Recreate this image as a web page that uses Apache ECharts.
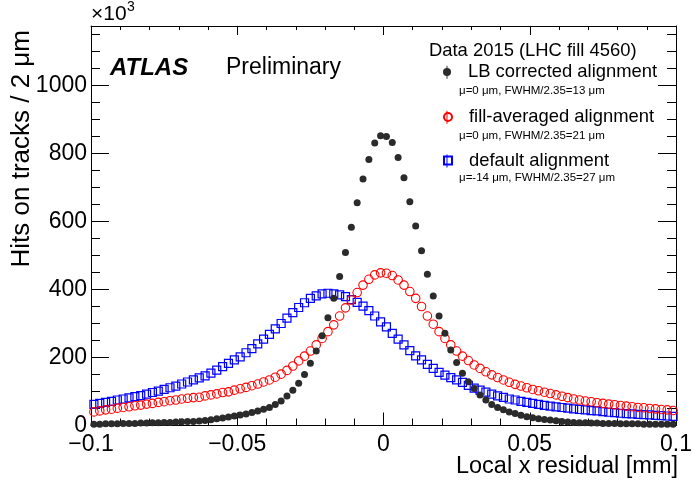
<!DOCTYPE html>
<html>
<head>
<meta charset="utf-8">
<title>Local x residual</title>
<script src="https://cdn.jsdelivr.net/npm/echarts@6/dist/echarts.min.js"></script>
<style>
  html, body { margin: 0; padding: 0; background: #fff; }
  #chart { width: 692px; height: 484px; }
</style>
</head>
<body>
<div id="chart"></div>
<script>
// binning of the histograms: 100 bins of 2 um over [-0.1, 0.1] mm
const X_MIN = -0.1
const BIN_WIDTH = 0.002

// hits per bin (x10^3), one value per bin, left to right
const lbCorrected = [
  4, 4, 5, 5, 5, 6, 6, 6, 7, 7, 8, 8, 9, 9, 10, 11, 12, 12,
  13, 15, 17, 20, 22, 25, 28, 31, 34, 38, 43, 48, 53, 62, 72, 87, 104, 124, 150,
  183, 219, 264, 317, 374, 438, 509, 583, 655, 725, 782, 831, 852,
  850, 832, 788, 729, 658, 587, 514, 445, 381, 322, 271, 222, 185, 154, 129,
  109, 90, 75, 62, 53, 46, 40, 35, 30, 26, 23, 20, 18, 16, 14, 12, 10, 9,
  8, 8, 7, 7, 6, 6, 6, 5, 5, 5, 5, 4, 4, 4, 4, 4, 4
]
const fillAveraged = [
  40, 43, 46, 48, 51, 53, 55, 58, 60, 63, 65, 68, 70, 73, 75, 78, 80, 82,
  83, 87, 90, 93, 97, 99, 104, 108, 112, 117, 122, 128, 134, 142, 151, 162, 175, 190, 204,
  219, 237, 256, 276, 296, 322, 346, 369, 391, 413, 430, 443, 449,
  448, 441, 428, 413, 394, 374, 350, 322, 298, 276, 256, 237, 219, 204, 191,
  178, 168, 158, 149, 141, 134, 127, 121, 116, 111, 106, 102, 98, 94, 90, 86, 82, 78,
  75, 72, 70, 67, 65, 63, 61, 59, 57, 55, 53, 52, 50, 49, 47, 46, 44
]
const defaultAlign = [
  62, 65, 68, 71, 75, 78, 81, 85, 88, 92, 97, 101, 106, 111, 116, 122, 128, 134,
  140, 146, 154, 163, 173, 183, 193, 202, 214, 226, 240, 254, 268, 284,
  300, 316, 332, 347, 361, 374, 381, 387, 389, 387, 384, 379, 370, 362, 351, 338, 322, 305, 290, 271, 254, 237, 220, 205, 193,
  180, 168, 156, 148, 141, 134, 127, 118, 110,
  104, 98, 92, 87, 83, 78, 75, 71, 68, 65, 62, 59, 57, 55, 53, 51, 49, 47, 46, 44, 43, 41, 39, 38, 36, 35, 34, 33, 32, 31, 30, 29, 28, 27
]

const seriesNames = ['LB corrected alignment', 'fill-averaged alignment', 'default alignment']
const seriesNotes = ['μ=0 μm, FWHM/2.35=13 μm', 'μ=0 μm, FWHM/2.35=21 μm', 'μ=-14 μm, FWHM/2.35=27 μm']
const yLabels = [0, 200, 400, 600, 800, 1000]

const FONT = '"Liberation Sans", Arial, Helvetica, sans-serif'
const Y_MAX = 1175

function points(vals) {
  return vals.map((v, i) => [X_MIN + BIN_WIDTH * (i + 0.5), v])
}

function xAxisCfg(pos, major, minor, labels) {
  return {
    type: 'value',
    position: pos,
    min: -0.1,
    max: 0.1,
    interval: 0.05,
    axisLine: { show: true, onZero: false, lineStyle: { color: '#000', width: 1 } },
    axisTick: { show: true, inside: true, length: major, lineStyle: { color: '#000' } },
    minorTick: { show: true, splitNumber: 5, length: minor, lineStyle: { color: '#000' } },
    splitLine: { show: false },
    axisLabel: {
      show: labels,
      fontSize: 23,
      fontFamily: FONT,
      color: '#000',
      margin: 8,
      formatter: v => {
        if (Math.abs(v) < 1e-9) return '0'
        return String(+v.toFixed(2)).replace('-', '\u2212')
      }
    }
  }
}

function yAxisCfg(pos, interval, len, labels, line) {
  return {
    type: 'value',
    position: pos,
    min: 0,
    max: Y_MAX,
    interval: interval,
    axisLine: { show: line, onZero: false, lineStyle: { color: '#000', width: 1 } },
    axisTick: { show: true, inside: true, length: len, lineStyle: { color: '#000' } },
    splitLine: { show: false },
    axisLabel: {
      show: labels,
      showMaxLabel: false,
      fontSize: 23,
      fontFamily: FONT,
      color: '#000',
      margin: 4,
      formatter: v => (yLabels.indexOf(v) >= 0 ? String(v) : '')
    }
  }
}

const chart = echarts.init(document.getElementById('chart'), null, { renderer: 'canvas' })

const legendTops = [63, 108, 151.5]
const noteTops = [90.7, 136, 178.3]
const markY = [72.3, 117.3, 161]

chart.setOption({
  animation: false,
  backgroundColor: '#fff',
  grid: { left: 91, right: 16, top: 26, bottom: 58.5, containLabel: false, outerBoundsMode: 'none' },
  xAxis: [xAxisCfg('bottom', 13, 7, true), xAxisCfg('top', 9, 4, false)],
  yAxis: [
    yAxisCfg('left', 200, 18, true, true),
    yAxisCfg('left', 50, 9, false, false),
    yAxisCfg('right', 200, 18, false, true),
    yAxisCfg('right', 50, 9, false, false)
  ],
  legend: seriesNames.map((name, k) => ({
    data: [name],
    left: 443,
    top: legendTops[k],
    padding: 0,
    itemWidth: 8,
    itemHeight: 8,
    selectedMode: false,
    textStyle: { fontSize: 18.4, fontFamily: FONT, color: '#000', padding: [0, 0, 0, 12] }
  })),
  graphic: [
    { type: 'text', left: 91, top: 4, style: { text: '×10', font: '21px ' + FONT, fill: '#000' } },
    { type: 'text', left: 127, top: 0, style: { text: '3', font: '14px ' + FONT, fill: '#000' } },
    {
      type: 'text', x: 22, y: 30, rotation: Math.PI / 2,
      style: { text: 'Hits on tracks / 2 μm', font: '26px ' + FONT, fill: '#000', align: 'right', verticalAlign: 'middle' }
    },
    {
      type: 'text', x: 678, y: 467,
      style: { text: 'Local x residual [mm]', font: '23.5px ' + FONT, fill: '#000', align: 'right', verticalAlign: 'middle' }
    },
    {
      type: 'text', x: 110, y: 68,
      style: { text: 'ATLAS', font: 'italic bold 24px ' + FONT, fill: '#000', verticalAlign: 'middle' }
    },
    {
      type: 'text', x: 226, y: 68,
      style: { text: 'Preliminary', font: '23px ' + FONT, fill: '#000', verticalAlign: 'middle' }
    },
    {
      type: 'text', x: 429, y: 50.5,
      style: { text: 'Data 2015 (LHC fill 4560)', font: '18.4px ' + FONT, fill: '#000', verticalAlign: 'middle' }
    }
  ].concat(seriesNotes.map((t, k) => ({
    type: 'text', x: 459, y: noteTops[k],
    style: { text: t, font: '11.5px ' + FONT, fill: '#000', verticalAlign: 'middle' }
  }))).concat(markY.map((y, k) => ({
    type: 'line', shape: { x1: 447, y1: y - 6.5, x2: 447, y2: y + 6.5 },
    style: { stroke: ['#333', '#f00', '#00f'][k], lineWidth: 1 }
  }))),
  series: [
    {
      name: seriesNames[2],
      type: 'scatter',
      symbol: 'rect',
      symbolSize: 8,
      itemStyle: { color: 'rgba(0,0,0,0)', borderColor: '#0000ff', borderWidth: 1.2, opacity: 1 },
      data: points(defaultAlign)
    },
    {
      name: seriesNames[1],
      type: 'scatter',
      symbol: 'circle',
      symbolSize: 8.5,
      itemStyle: { color: 'rgba(0,0,0,0)', borderColor: '#ff0000', borderWidth: 1.1, opacity: 1 },
      data: points(fillAveraged)
    },
    {
      name: seriesNames[0],
      type: 'scatter',
      symbol: 'circle',
      symbolSize: 7,
      itemStyle: { color: '#2b2b2b', opacity: 1 },
      data: points(lbCorrected)
    }
  ]
})
</script>
</body>
</html>
